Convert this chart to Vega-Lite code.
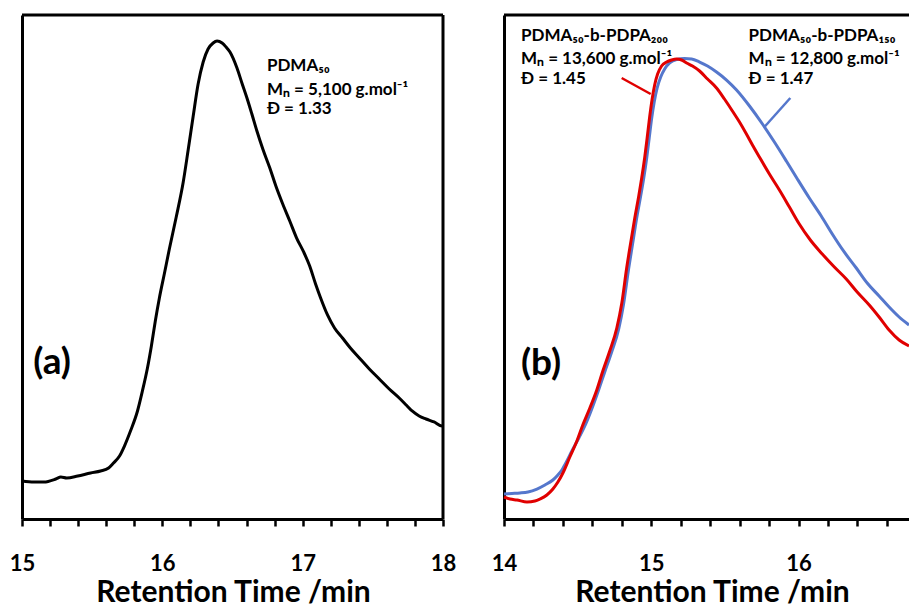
{
  "$schema": "https://vega.github.io/schema/vega-lite/v6.json",
  "background": "white",
  "padding": {"left": 9, "top": 13, "right": 0, "bottom": 0},
  "spacing": 61,
  "bounds": "flush",
  "config": {
    "view": {"stroke": null},
    "font": "Lato",
    "axis": {
      "labelFont": "Lato", "labelFontSize": 22, "labelFontWeight": "bold", "labelColor": "black",
      "titleFont": "Lato", "titleFontSize": 30, "titleFontWeight": "bold", "titleColor": "black",
      "domainColor": "black", "domainWidth": 3, "tickColor": "black", "tickWidth": 2.5, "tickSize": 7, "grid": false
    }
  },
  "datasets": {
    "pdma": [
      {"t": 15.000, "s": 7.54}, {"t": 15.085, "s": 7.34}, {"t": 15.156, "s": 7.34}, {"t": 15.241, "s": 7.94},
      {"t": 15.277, "s": 8.33}, {"t": 15.319, "s": 8.13}, {"t": 15.397, "s": 8.53}, {"t": 15.489, "s": 9.13},
      {"t": 15.560, "s": 9.52}, {"t": 15.617, "s": 10.12}, {"t": 15.652, "s": 11.11}, {"t": 15.695, "s": 12.50},
      {"t": 15.730, "s": 14.48}, {"t": 15.773, "s": 17.46}, {"t": 15.823, "s": 21.43}, {"t": 15.858, "s": 25.40},
      {"t": 15.894, "s": 29.96}, {"t": 15.922, "s": 34.33}, {"t": 15.950, "s": 39.29}, {"t": 15.979, "s": 43.85},
      {"t": 16.014, "s": 48.61}, {"t": 16.050, "s": 53.57}, {"t": 16.099, "s": 59.92}, {"t": 16.149, "s": 66.87},
      {"t": 16.184, "s": 73.21}, {"t": 16.220, "s": 79.96}, {"t": 16.255, "s": 86.30}, {"t": 16.291, "s": 90.67},
      {"t": 16.326, "s": 93.25}, {"t": 16.362, "s": 94.44}, {"t": 16.390, "s": 94.84}, {"t": 16.426, "s": 94.44},
      {"t": 16.454, "s": 93.65}, {"t": 16.482, "s": 92.66}, {"t": 16.532, "s": 89.48}, {"t": 16.567, "s": 86.51},
      {"t": 16.603, "s": 83.53}, {"t": 16.638, "s": 80.36}, {"t": 16.674, "s": 76.98}, {"t": 16.716, "s": 73.41},
      {"t": 16.766, "s": 69.64}, {"t": 16.809, "s": 66.07}, {"t": 16.858, "s": 62.50}, {"t": 16.908, "s": 59.13},
      {"t": 16.957, "s": 55.75}, {"t": 17.007, "s": 52.98}, {"t": 17.050, "s": 50.20}, {"t": 17.092, "s": 46.63},
      {"t": 17.128, "s": 43.85}, {"t": 17.177, "s": 40.48}, {"t": 17.227, "s": 37.90}, {"t": 17.284, "s": 35.91},
      {"t": 17.340, "s": 33.93}, {"t": 17.404, "s": 31.94}, {"t": 17.475, "s": 29.76}, {"t": 17.546, "s": 27.78},
      {"t": 17.617, "s": 25.79}, {"t": 17.688, "s": 24.01}, {"t": 17.738, "s": 22.62}, {"t": 17.780, "s": 21.43},
      {"t": 17.830, "s": 20.44}, {"t": 17.879, "s": 19.84}, {"t": 17.936, "s": 19.25}, {"t": 17.993, "s": 18.45},
      {"t": 18.000, "s": 18.45}
    ],
    "red": [
      {"t": 14.000, "s": 4.37}, {"t": 14.041, "s": 3.97}, {"t": 14.088, "s": 3.77}, {"t": 14.156, "s": 3.37},
      {"t": 14.210, "s": 3.57}, {"t": 14.244, "s": 3.97}, {"t": 14.291, "s": 4.76}, {"t": 14.332, "s": 5.95},
      {"t": 14.366, "s": 7.34}, {"t": 14.400, "s": 9.13}, {"t": 14.447, "s": 12.30}, {"t": 14.495, "s": 15.48},
      {"t": 14.535, "s": 18.65}, {"t": 14.583, "s": 22.02}, {"t": 14.630, "s": 25.60}, {"t": 14.671, "s": 29.37},
      {"t": 14.718, "s": 33.33}, {"t": 14.766, "s": 37.90}, {"t": 14.800, "s": 42.86}, {"t": 14.833, "s": 49.80},
      {"t": 14.860, "s": 54.76}, {"t": 14.888, "s": 59.72}, {"t": 14.915, "s": 64.09}, {"t": 14.935, "s": 67.66},
      {"t": 14.955, "s": 71.63}, {"t": 14.972, "s": 75.60}, {"t": 14.989, "s": 79.76}, {"t": 15.006, "s": 83.33},
      {"t": 15.023, "s": 86.11}, {"t": 15.043, "s": 88.29}, {"t": 15.070, "s": 89.88}, {"t": 15.104, "s": 90.67},
      {"t": 15.138, "s": 91.07}, {"t": 15.172, "s": 91.27}, {"t": 15.206, "s": 91.07}, {"t": 15.240, "s": 90.48},
      {"t": 15.280, "s": 89.88}, {"t": 15.328, "s": 88.89}, {"t": 15.382, "s": 87.30}, {"t": 15.443, "s": 85.52},
      {"t": 15.497, "s": 83.33}, {"t": 15.551, "s": 80.95}, {"t": 15.599, "s": 78.77}, {"t": 15.646, "s": 76.39},
      {"t": 15.687, "s": 74.21}, {"t": 15.734, "s": 71.83}, {"t": 15.802, "s": 68.45}, {"t": 15.870, "s": 65.28},
      {"t": 15.938, "s": 61.90}, {"t": 16.005, "s": 58.53}, {"t": 16.080, "s": 55.36}, {"t": 16.161, "s": 52.58},
      {"t": 16.243, "s": 50.00}, {"t": 16.324, "s": 47.62}, {"t": 16.398, "s": 45.04}, {"t": 16.480, "s": 42.46},
      {"t": 16.547, "s": 40.08}, {"t": 16.615, "s": 37.50}, {"t": 16.683, "s": 35.52}, {"t": 16.750, "s": 34.32}
    ],
    "blue": [
      {"t": 14.000, "s": 4.96}, {"t": 14.054, "s": 5.06}, {"t": 14.108, "s": 5.16}, {"t": 14.163, "s": 5.36},
      {"t": 14.224, "s": 5.95}, {"t": 14.278, "s": 6.75}, {"t": 14.332, "s": 7.74}, {"t": 14.366, "s": 8.73},
      {"t": 14.393, "s": 9.72}, {"t": 14.427, "s": 11.51}, {"t": 14.461, "s": 13.49}, {"t": 14.508, "s": 16.07},
      {"t": 14.552, "s": 18.65}, {"t": 14.596, "s": 21.83}, {"t": 14.640, "s": 25.40}, {"t": 14.684, "s": 29.17},
      {"t": 14.731, "s": 33.13}, {"t": 14.779, "s": 37.70}, {"t": 14.812, "s": 42.66},
      {"t": 14.846, "s": 49.60}, {"t": 14.873, "s": 54.56}, {"t": 14.901, "s": 59.72}, {"t": 14.928, "s": 64.09},
      {"t": 14.949, "s": 67.66}, {"t": 14.969, "s": 71.63}, {"t": 14.986, "s": 75.60}, {"t": 15.003, "s": 79.56},
      {"t": 15.020, "s": 82.74}, {"t": 15.040, "s": 85.52}, {"t": 15.064, "s": 87.70}, {"t": 15.091, "s": 89.29},
      {"t": 15.125, "s": 90.48}, {"t": 15.172, "s": 91.17}, {"t": 15.226, "s": 91.37}, {"t": 15.274, "s": 91.27},
      {"t": 15.328, "s": 90.67}, {"t": 15.382, "s": 89.88}, {"t": 15.443, "s": 88.69}, {"t": 15.511, "s": 87.10},
      {"t": 15.579, "s": 85.12}, {"t": 15.667, "s": 81.94}, {"t": 15.755, "s": 78.37}, {"t": 15.836, "s": 74.80},
      {"t": 15.917, "s": 71.03}, {"t": 15.992, "s": 67.46}, {"t": 16.073, "s": 63.69}, {"t": 16.154, "s": 60.12},
      {"t": 16.229, "s": 56.55}, {"t": 16.310, "s": 52.98}, {"t": 16.392, "s": 49.80}, {"t": 16.466, "s": 46.83},
      {"t": 16.547, "s": 44.25}, {"t": 16.615, "s": 42.06}, {"t": 16.683, "s": 40.08}, {"t": 16.750, "s": 38.49}
    ]
  },
  "hconcat": [
    {
      "width": 421,
      "height": 504,
      "layer": [
        {
          "data": {"name": "pdma"},
          "mark": {"type": "line", "color": "black", "strokeWidth": 3, "interpolate": "monotone"},
          "encoding": {
            "x": {
              "field": "t", "type": "quantitative",
              "scale": {"domain": [15, 18], "nice": false, "zero": false},
              "axis": {
                "title": "Retention Time /min",
                "values": [15, 15.2, 15.4, 15.6, 15.8, 16, 16.2, 16.4, 16.6, 16.8, 17, 17.2, 17.4, 17.6, 17.8, 18],
                "tickCount": 100,
                "labelExpr": "datum.value % 1 === 0 ? '' + datum.value : ''",
                "labelOverlap": false, "labelFlush": false,
                "labelBaseline": "alphabetic", "labelPadding": 44,
                "titleBaseline": "alphabetic", "titleY": 82, "titleX": 211
              }
            },
            "y": {
              "field": "s", "type": "quantitative",
              "scale": {"domain": [0, 100], "nice": false},
              "axis": {"title": null, "labels": false, "ticks": false, "domain": true}
            }
          }
        },
        {
          "data": {"values": [{}]},
          "mark": {"type": "rule", "color": "black", "strokeWidth": 3},
          "encoding": {"y": {"datum": 100}}
        },
        {
          "data": {"values": [{}]},
          "mark": {"type": "rule", "color": "black", "strokeWidth": 3},
          "encoding": {"x": {"datum": 18}}
        },
        {
          "data": {"values": [
            {"t": 16.745, "s": 88.89, "label": "PDMA₅₀"},
            {"t": 16.745, "s": 84.13, "label": "Mₙ = 5,100 g.mol⁻¹"},
            {"t": 16.745, "s": 80.36, "label": "Đ = 1.33"}
          ]},
          "mark": {"type": "text", "align": "left", "baseline": "alphabetic", "fontSize": 17, "fontWeight": "bold", "font": "Lato", "color": "black"},
          "encoding": {
            "x": {"field": "t", "type": "quantitative"},
            "y": {"field": "s", "type": "quantitative"},
            "text": {"field": "label"}
          }
        },
        {
          "data": {"values": [{"t": 15.08, "s": 28.8, "label": "(a)"}]},
          "mark": {"type": "text", "align": "left", "baseline": "alphabetic", "fontSize": 37, "fontWeight": "bold", "font": "Lato", "color": "black"},
          "encoding": {
            "x": {"field": "t", "type": "quantitative"},
            "y": {"field": "s", "type": "quantitative"},
            "text": {"field": "label"}
          }
        }
      ]
    },
    {
      "width": 405,
      "height": 504,
      "layer": [
        {
          "data": {"name": "blue"},
          "mark": {"type": "line", "color": "#5577CC", "strokeWidth": 3, "interpolate": "monotone"},
          "encoding": {
            "x": {
              "field": "t", "type": "quantitative",
              "scale": {"domain": [14, 16.75], "nice": false, "zero": false},
              "axis": {
                "title": "Retention Time /min",
                "values": [14, 14.2, 14.4, 14.6, 14.8, 15, 15.2, 15.4, 15.6, 15.8, 16, 16.2, 16.4, 16.6],
                "tickCount": 100,
                "labelExpr": "datum.value % 1 === 0 ? '' + datum.value : ''",
                "labelOverlap": false, "labelFlush": false,
                "labelBaseline": "alphabetic", "labelPadding": 44,
                "titleBaseline": "alphabetic", "titleY": 82, "titleX": 208
              }
            },
            "y": {
              "field": "s", "type": "quantitative",
              "scale": {"domain": [0, 100], "nice": false},
              "axis": {"title": null, "labels": false, "ticks": false, "domain": true}
            }
          }
        },
        {
          "data": {"name": "red"},
          "mark": {"type": "line", "color": "#E00000", "strokeWidth": 3, "interpolate": "monotone"},
          "encoding": {
            "x": {"field": "t", "type": "quantitative"},
            "y": {"field": "s", "type": "quantitative"}
          }
        },
        {
          "data": {"values": [{"t": 14.799, "s": 87.5, "t2": 14.996, "s2": 84.33}]},
          "mark": {"type": "rule", "color": "#E00000", "strokeWidth": 2.5},
          "encoding": {
            "x": {"field": "t", "type": "quantitative"},
            "y": {"field": "s", "type": "quantitative"},
            "x2": {"field": "t2"},
            "y2": {"field": "s2"}
          }
        },
        {
          "data": {"values": [{"t": 15.944, "s": 83.53, "t2": 15.768, "s2": 77.78}]},
          "mark": {"type": "rule", "color": "#5577CC", "strokeWidth": 2.5},
          "encoding": {
            "x": {"field": "t", "type": "quantitative"},
            "y": {"field": "s", "type": "quantitative"},
            "x2": {"field": "t2"},
            "y2": {"field": "s2"}
          }
        },
        {
          "data": {"values": [{}]},
          "mark": {"type": "rule", "color": "black", "strokeWidth": 3},
          "encoding": {"y": {"datum": 100}}
        },
        {
          "data": {"values": [
            {"t": 14.115, "s": 94.84, "label": "PDMA₅₀-b-PDPA₂₀₀"},
            {"t": 14.115, "s": 90.28, "label": "Mₙ = 13,600 g.mol⁻¹"},
            {"t": 14.115, "s": 86.31, "label": "Đ = 1.45"},
            {"t": 15.660, "s": 94.84, "label": "PDMA₅₀-b-PDPA₁₅₀"},
            {"t": 15.660, "s": 90.28, "label": "Mₙ = 12,800 g.mol⁻¹"},
            {"t": 15.660, "s": 86.31, "label": "Đ = 1.47"}
          ]},
          "mark": {"type": "text", "align": "left", "baseline": "alphabetic", "fontSize": 17, "fontWeight": "bold", "font": "Lato", "color": "black"},
          "encoding": {
            "x": {"field": "t", "type": "quantitative"},
            "y": {"field": "s", "type": "quantitative"},
            "text": {"field": "label"}
          }
        },
        {
          "data": {"values": [{"t": 14.115, "s": 28.6, "label": "(b)"}]},
          "mark": {"type": "text", "align": "left", "baseline": "alphabetic", "fontSize": 37, "fontWeight": "bold", "font": "Lato", "color": "black"},
          "encoding": {
            "x": {"field": "t", "type": "quantitative"},
            "y": {"field": "s", "type": "quantitative"},
            "text": {"field": "label"}
          }
        }
      ]
    }
  ]
}
